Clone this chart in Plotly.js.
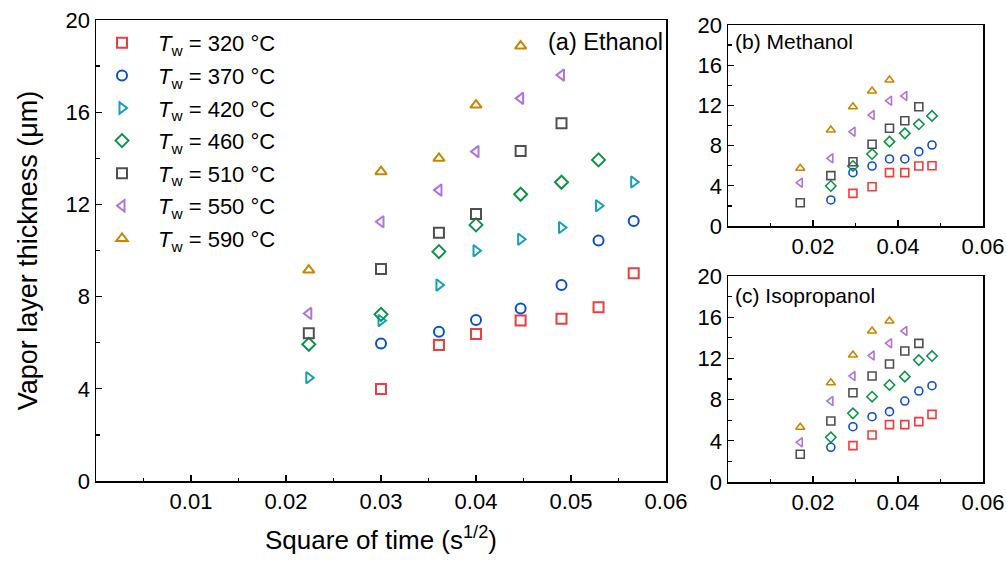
<!DOCTYPE html>
<html>
<head>
<meta charset="utf-8">
<script src="https://cdn.plot.ly/plotly-3.0.1.min.js"></script>
<style>html,body{margin:0;padding:0;background:#fff;}#chart{width:1006px;height:562px;}</style>
</head>
<body>
<div id="chart"></div>
<script>
// ---- Data ----
const seriesNames = ["320", "370", "420", "460", "510", "550", "590"];
const seriesColors = ["#f23c3c", "#0a4fcf", "#139fc0", "#0d9448", "#505050", "#b273dd", "#cc8500"];
const seriesSymbols = ["square-open", "circle-open", "triangle-right-open", "diamond-open", "square-open", "triangle-left-open", "triangle-up-open"];

// (a) Ethanol
const ethX = [0.0224, 0.0300, 0.0361, 0.0400, 0.0447, 0.0490, 0.0529, 0.0566];
const eth320 = [null, 3.99, 5.90, 6.38, 6.96, 7.04, 7.54, 9.01];
const eth370 = [null, 5.97, 6.48, 6.98, 7.48, 8.50, 10.43, 11.28];
const eth420 = [4.48, 6.96, 8.50, 9.99, 10.49, 11.00, 11.94, 12.97];
const eth460 = [5.93, 7.23, 9.95, 11.11, 12.44, 12.96, 13.93, null];
const eth510 = [6.41, 9.20, 10.77, 11.58, 14.32, 15.52, null, null];
const eth550 = [7.27, 11.25, 12.62, 14.29, 16.60, 17.61, null, null];
const eth590 = [9.15, 13.42, 14.00, 16.31, 18.87, null, null, null];

// (b) Methanol
const subX = [0.0170, 0.0242, 0.0294, 0.0339, 0.0380, 0.0416, 0.0449, 0.0480];
const met320 = [null, null, 3.25, 3.91, 5.31, 5.31, 5.97, 6.00];
const met370 = [null, 2.59, 5.31, 5.97, 6.67, 6.67, 7.40, 8.06];
const met460 = [null, 3.98, 5.97, 7.16, 8.39, 9.22, 10.12, 10.95];
const met510 = [2.32, 5.01, 6.40, 8.13, 9.72, 10.48, 11.87, null];
const met550 = [4.31, 6.73, 9.38, 11.04, 12.47, 12.94, null, null];
const met590 = [5.74, 9.55, 11.87, 13.43, 14.53, null, null, null];

// (c) Isopropanol
const iso320 = [null, null, 3.53, 4.56, 5.57, 5.57, 5.86, 6.57];
const iso370 = [null, 3.37, 5.37, 6.34, 6.83, 7.86, 8.83, 9.35];
const iso460 = [null, 4.34, 6.67, 8.28, 9.42, 10.23, 11.84, 12.23];
const iso510 = [2.69, 5.92, 8.67, 10.29, 11.46, 12.72, 13.46, null];
const iso550 = [3.85, 7.86, 10.29, 12.27, 13.46, 14.66, null, null];
const iso590 = [5.31, 9.64, 12.33, 14.66, 15.63, null, null, null];

const mainTickVals = [0.01, 0.02, 0.03, 0.04, 0.05, 0.06];
const mainTickText = ["0.01", "0.02", "0.03", "0.04", "0.05", "0.06"];
const subTickVals = [0.02, 0.04, 0.06];
const subTickText = ["0.02", "0.04", "0.06"];
const yTickVals = [0, 4, 8, 12, 16, 20];
const yTickText = ["0", "4", "8", "12", "16", "20"];

// ---- Build ----
const FONT = "Arial, 'Liberation Sans', sans-serif";
const TICK = 22;
const traces = [];
const ethSets = [eth320, eth370, eth420, eth460, eth510, eth550, eth590];
ethSets.forEach((ys, i) => {
  traces.push({
    type: "scatter", mode: "markers", x: ethX, y: ys,
    name: "<i>T</i><sub>w</sub> = " + seriesNames[i] + " °C",
    legendgroup: "g" + i,
    marker: {symbol: seriesSymbols[i], color: seriesColors[i], size: 10, line: {width: 2, color: seriesColors[i]}},
    xaxis: "x", yaxis: "y", hoverinfo: "skip"
  });
});
const metSets = {0: met320, 1: met370, 3: met460, 4: met510, 5: met550, 6: met590};
const isoSets = {0: iso320, 1: iso370, 3: iso460, 4: iso510, 5: iso550, 6: iso590};
[[metSets, "x2", "y2"], [isoSets, "x3", "y3"]].forEach(([sets, xa, ya]) => {
  Object.keys(sets).forEach(k => {
    const i = +k;
    traces.push({
      type: "scatter", mode: "markers", x: subX, y: sets[k],
      showlegend: false, legendgroup: "g" + i,
      marker: {symbol: seriesSymbols[i], color: seriesColors[i], size: 8, line: {width: 1.6, color: seriesColors[i]}},
      xaxis: xa, yaxis: ya, hoverinfo: "skip"
    });
  });
});

const W = 1006, H = 562;
const fx = p => p / W, fy = p => 1 - p / H;

function xAxis(dom, anchor, tv, tt, minorD) {
  return {
    domain: [fx(dom[0]), fx(dom[1])], anchor: anchor, range: [0, 0.06],
    tickmode: "array", tickvals: tv, ticktext: tt,
    ticks: "inside", ticklen: 6, tickwidth: 1.3, tickcolor: "#000",
    minor: {tickmode: "linear", tick0: 0, dtick: minorD, ticks: "inside", ticklen: 3.5, tickwidth: 1.3, tickcolor: "#000"},
    showline: true, linecolor: "#000", linewidth: 1.5, mirror: true,
    showgrid: false, zeroline: false,
    tickfont: {family: FONT, size: TICK, color: "#000"}, fixedrange: true
  };
}
function yAxis(dom, anchor) {
  return {
    domain: [fy(dom[1]), fy(dom[0])], anchor: anchor, range: [0, 20],
    tickmode: "array", tickvals: yTickVals, ticktext: yTickText,
    ticks: "inside", ticklen: 6, tickwidth: 1.3, tickcolor: "#000",
    minor: {tickmode: "linear", tick0: 0, dtick: 2, ticks: "inside", ticklen: 3.5, tickwidth: 1.3, tickcolor: "#000"},
    showline: true, linecolor: "#000", linewidth: 1.5, mirror: true,
    showgrid: false, zeroline: false,
    tickfont: {family: FONT, size: TICK, color: "#000"}, fixedrange: true
  };
}

const xa1 = xAxis([96, 666], "y", mainTickVals, mainTickText, 0.005);
xa1.title = {text: "Square of time (s<sup>1/2</sup>)", font: {family: FONT, size: 26, color: "#000"}, standoff: 18};
const ya1 = yAxis([20, 481], "x");
ya1.title = {text: "Vapor layer thickness (μm)", font: {family: FONT, size: 27, color: "#000"}, standoff: 20};

const layout = {
  width: W, height: H,
  margin: {l: 0, r: 0, t: 0, b: 0},
  paper_bgcolor: "#fff", plot_bgcolor: "#fff",
  font: {family: FONT, color: "#000"},
  xaxis: xa1, yaxis: ya1,
  xaxis2: xAxis([728, 983], "y2", subTickVals, subTickText, 0.01),
  yaxis2: yAxis([25, 226], "x2"),
  xaxis3: xAxis([728, 983], "y3", subTickVals, subTickText, 0.01),
  yaxis3: yAxis([276, 482], "x3"),
  showlegend: true,
  legend: {
    x: fx(86), y: fy(22), xanchor: "left", yanchor: "top",
    bgcolor: "rgba(0,0,0,0)", borderwidth: 0,
    font: {family: FONT, size: 22, color: "#000"},
    traceorder: "grouped", tracegroupgap: 1, itemwidth: 62
  },
  annotations: [
    {text: "(a) Ethanol", xref: "paper", yref: "paper", x: fx(546), y: fy(42), xanchor: "left", yanchor: "middle", showarrow: false, font: {family: FONT, size: 23.5, color: "#000"}},
    {text: "(b) Methanol", xref: "paper", yref: "paper", x: fx(733), y: fy(41), xanchor: "left", yanchor: "middle", showarrow: false, font: {family: FONT, size: 21, color: "#000"}},
    {text: "(c) Isopropanol", xref: "paper", yref: "paper", x: fx(733), y: fy(295), xanchor: "left", yanchor: "middle", showarrow: false, font: {family: FONT, size: 21, color: "#000"}}
  ]
};

Plotly.newPlot("chart", traces, layout, {displayModeBar: false, staticPlot: true});
</script>
</body>
</html>
